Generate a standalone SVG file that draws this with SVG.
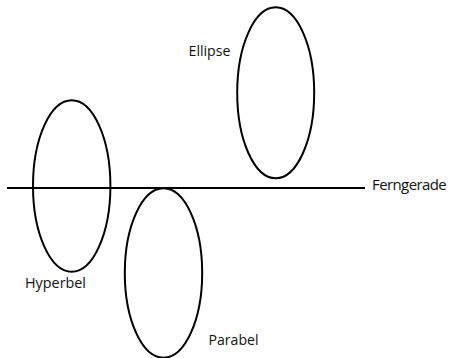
<svg xmlns="http://www.w3.org/2000/svg" width="449" height="358" viewBox="0 0 449 358">
<style>
.shape{fill:none;stroke:#000;stroke-width:2}
.lbl{font-family:"Open Sans","Noto Sans",sans-serif;font-size:15px;fill:#111}
</style>
<rect width="449" height="358" fill="#fff"/>
<g id="connectors">
<line class="shape" x1="7" y1="188" x2="365" y2="188"/>
</g>
<g id="ellipse">
<ellipse class="shape" cx="275.7" cy="92.8" rx="38.5" ry="85.5"/>
<text class="lbl" x="188.5" y="56" textLength="42" lengthAdjust="spacingAndGlyphs">Ellipse</text>
</g>
<g id="ferngerade">
<text class="lbl" x="372" y="190" letter-spacing="-0.6">Ferngerade</text>
</g>
<g id="hyperbel">
<ellipse class="shape" cx="71.7" cy="186" rx="38.7" ry="85.7"/>
<text class="lbl" x="25" y="288" textLength="61" lengthAdjust="spacingAndGlyphs">Hyperbel</text>
</g>
<g id="parabel">
<ellipse class="shape" cx="163.5" cy="273" rx="38.7" ry="84.7"/>
<text class="lbl" x="208.5" y="345" textLength="50" lengthAdjust="spacingAndGlyphs">Parabel</text>
</g>
</svg>
